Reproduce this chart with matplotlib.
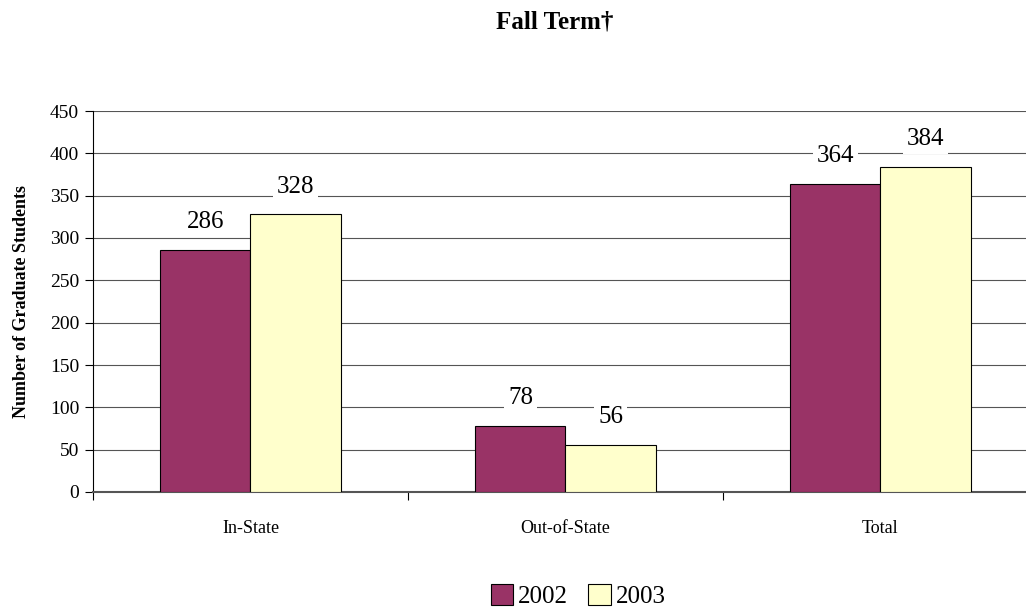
import numpy as np
import matplotlib.pyplot as plt

# data
categories = ['In-State', 'Out-of-State', 'Total']
years = ['2002', '2003']
vals_2002 = [286, 78, 364]
vals_2003 = [328, 56, 384]
colors = ['#993366', '#FFFFCC']

plt.rcParams['font.family'] = ['Liberation Serif', 'DejaVu Serif']

fig = plt.figure(figsize=(10.26, 6.08), dpi=100)
# plot area runs slightly past the right edge, like the original
ax = fig.add_axes([93/1026, 1 - 492/608, (1038-93)/1026, (492-111)/608])

x = np.arange(len(categories))
w = 0.286
b1 = ax.bar(x - w/2, vals_2002, w, color=colors[0], edgecolor='black', linewidth=0.8, label=years[0], zorder=3)
b2 = ax.bar(x + w/2, vals_2003, w, color=colors[1], edgecolor='black', linewidth=0.8, label=years[1], zorder=3)

for bars in (b1, b2):
    for r in bars:
        ax.annotate(str(int(r.get_height())), (r.get_x() + r.get_width()/2, r.get_height()),
                    xytext=(0, 20), textcoords='offset points', ha='center', va='center',
                    fontsize=18, zorder=4,
                    bbox=dict(boxstyle='square,pad=0.15', fc='white', ec='none'))

ax.set_xlim(-0.5, 2.5)
ax.set_ylim(0, 450)
ax.set_yticks(range(0, 451, 50))
ax.tick_params(axis='y', labelsize=14, direction='out', length=6, width=0.8, pad=4)
ax.yaxis.grid(True, color='#555555', linewidth=0.8, zorder=0)
ax.set_axisbelow(True)

# category labels centered, ticks on the boundaries
ax.set_xticks([-0.5, 0.5, 1.5, 2.5])
ax.set_xticklabels([])
ax.set_xticks(x, minor=True)
ax.set_xticklabels(categories, minor=True, fontsize=13)
ax.tick_params(axis='x', which='major', direction='out', length=6, width=0.8)
ax.tick_params(axis='x', which='minor', length=0, pad=20)

for s in ['top', 'right']:
    ax.spines[s].set_visible(False)
ax.spines['left'].set_linewidth(0.8)
ax.spines['bottom'].set_color('#555555')
ax.spines['bottom'].set_linewidth(1.5)

ax.set_ylabel('Number of Graduate Students', fontsize=13, fontweight='bold', labelpad=14)
fig.text(555/1026, 1 - 22/608, 'Fall Term\u2020', ha='center', va='center', fontsize=18, fontweight='bold')

fig.legend(handles=[b1, b2], labels=years, loc='center', bbox_to_anchor=(578/1026, 1 - 596/608),
           ncol=2, frameon=False, fontsize=18, handlelength=0.9, handleheight=0.9,
           handletextpad=0.2, columnspacing=0.8)

fig.savefig('out.png', dpi=100)
